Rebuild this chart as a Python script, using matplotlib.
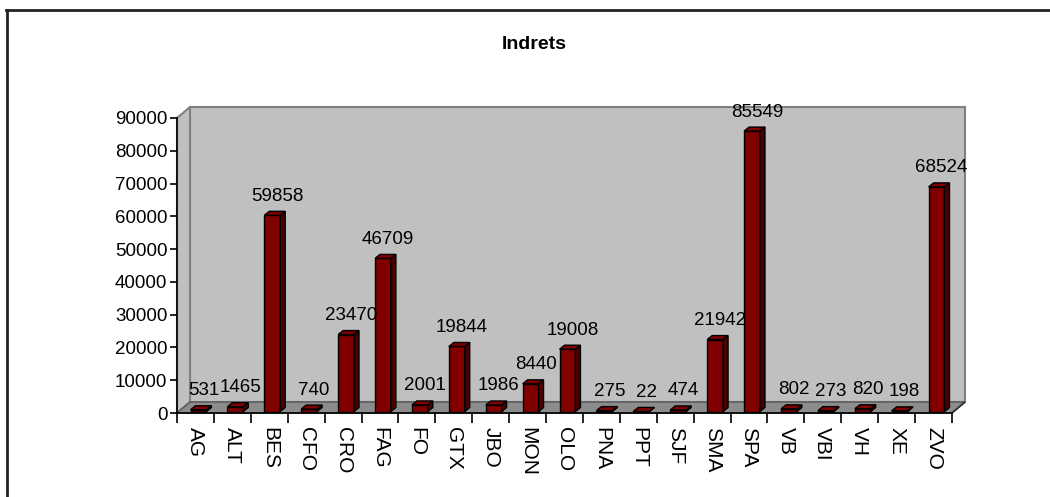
import numpy as np
import matplotlib
matplotlib.use("Agg")
import matplotlib.pyplot as plt
import matplotlib.transforms as mtransforms
from matplotlib.patches import Polygon
from matplotlib.lines import Line2D

categories = ["AG", "ALT", "BES", "CFO", "CRO", "FAG", "FO", "GTX", "JBO", "MON", "OLO",
              "PNA", "PPT", "SJF", "SMA", "SPA", "VB", "VBI", "VH", "XE", "ZVO"]
values = [531, 1465, 59858, 740, 23470, 46709, 2001, 19844, 1986, 8440, 19008,
          275, 22, 474, 21942, 85549, 802, 273, 820, 198, 68524]
y_ticks = [0, 10000, 20000, 30000, 40000, 50000, 60000, 70000, 80000, 90000]
title = "Indrets"

FONT = ["Liberation Sans", "DejaVu Sans"]
plt.rcParams["font.family"] = FONT

W, H = 1050, 497
fig = plt.figure(figsize=(W / 100, H / 100), dpi=100)
fig.patch.set_facecolor("white")

# axes = front plane of the 3D box
x0, x1, y0, y1 = 177, 952, 413, 118
ax = fig.add_axes([x0 / W, (H - y0) / H, (x1 - x0) / W, (y0 - y1) / H])
ax.patch.set_visible(False)
ax.set_xlim(-0.5, len(categories) - 0.5)
ax.set_ylim(0, 90000)
ax.set_autoscale_on(False)

WALL = np.array([13.0, 11.0])       # depth of the box in pixels (display, y up)
BAR_F = np.array([3.0, 1.5])        # bar front-plane offset
BAR_B = np.array([8.0, 5.5])        # bar back-plane offset
ident = mtransforms.IdentityTransform()


def disp(x, y):
    return ax.transData.transform((x, y))


def poly(pts, fc, ec, lw, z, closed=True):
    p = Polygon(np.array(pts), closed=closed, facecolor=fc, edgecolor=ec, lw=lw,
                transform=ident, clip_on=False, zorder=z, joinstyle="miter")
    ax.add_artist(p)
    return p


xa, xb = ax.get_xlim()
ya, yb = ax.get_ylim()
BL, BR, TL, TR = disp(xa, ya), disp(xb, ya), disp(xa, yb), disp(xb, yb)

# back wall
poly([BL + WALL, BR + WALL, TR + WALL, TL + WALL], "#c0c0c0", "#808080", 1.5, 0.5)
# left wall
poly([BL, BL + WALL, TL + WALL, TL], "#c0c0c0", "#808080", 1.5, 0.6)
# floor
poly([BL, BR, BR + WALL, BL + WALL], "#8c8c8c", "#606060", 1.2, 0.7)

# bars
bw = 0.43
xs = np.arange(len(categories))
bars = ax.bar(xs, values, width=bw, color="#800000", edgecolor="black", lw=1.0, zorder=3)
off_front = mtransforms.ScaledTranslation(BAR_F[0] / 100, BAR_F[1] / 100, fig.dpi_scale_trans)
for b in bars:
    b.set_transform(ax.transData + off_front)
    b.set_clip_on(False)

for i, (x, v) in enumerate(zip(xs, values)):
    xl, xr = x - bw / 2, x + bw / 2
    z = 3 + i * 0.01
    # side face
    poly([disp(xr, 0) + BAR_F, disp(xr, 0) + BAR_B, disp(xr, v) + BAR_B, disp(xr, v) + BAR_F],
         "#4a0000", "black", 1.0, z)
    # top face
    poly([disp(xl, v) + BAR_F, disp(xr, v) + BAR_F, disp(xr, v) + BAR_B, disp(xl, v) + BAR_B],
         "#800000", "black", 1.0, z)
    ax.annotate(f"{v}", (x, v), xytext=(8 * 0.72, 16 * 0.72), textcoords="offset points",
                ha="center", va="baseline", fontsize=13.5, color="black",
                zorder=10, annotation_clip=False)

# axes styling
for s in ["top", "right"]:
    ax.spines[s].set_visible(False)
for s in ["left", "bottom"]:
    ax.spines[s].set_color("black")
    ax.spines[s].set_linewidth(1.2)
    ax.spines[s].set_zorder(5)

ax.set_yticks(y_ticks)
ax.set_yticklabels([str(t) for t in y_ticks])
ax.tick_params(axis="y", length=5, width=1.2, pad=2, labelsize=13.5)

ax.set_xticks(np.arange(-0.5, len(categories), 1.0))
ax.set_xticklabels([])
ax.set_xticks(xs, minor=True)
ax.set_xticklabels(categories, minor=True, rotation=-90, fontsize=15, va="top", ha="center")
ax.tick_params(axis="x", which="major", length=7, width=1.2, direction="out")
ax.tick_params(axis="x", which="minor", length=0, pad=10)

# bottom-right diagonal of floor
poly([BR, BR + WALL], "none", "#303030", 1.2, 5, closed=False)

fig.text(534.5 / W, (H - 49) / H, title, ha="center", va="baseline",
         fontsize=14, fontweight="bold")

# chart border (top and left)
fig.add_artist(Line2D([6 / W, 1.0], [(H - 10) / H] * 2, color="#222222", lw=2,
                      transform=fig.transFigure))
fig.add_artist(Line2D([7 / W, 7 / W], [(H - 10) / H, 0], color="#222222", lw=2,
                      transform=fig.transFigure))

fig.savefig("out.png", dpi=100, facecolor="white")
